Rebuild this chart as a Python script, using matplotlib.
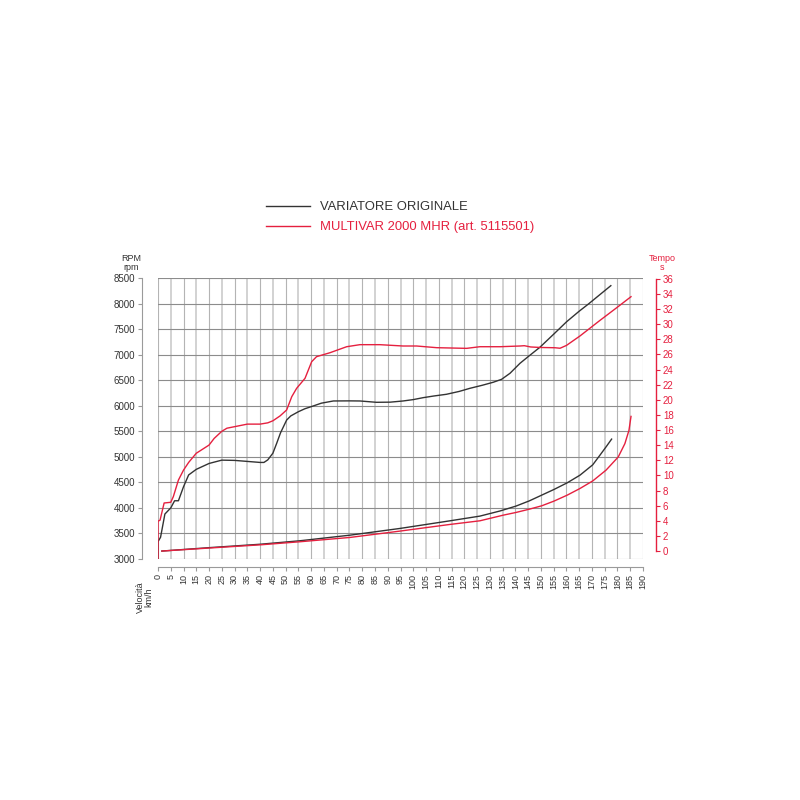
import matplotlib
matplotlib.use("Agg")
import matplotlib.pyplot as plt
from matplotlib import font_manager
from matplotlib.lines import Line2D

# ---------------- data ----------------
orig_rpm_speed = [0, 0, 1, 2.7, 5, 6.5, 8, 10, 12, 15, 20, 25, 30, 35, 40, 41.5, 43, 45,
                  46.5, 48, 50.4, 52, 55, 57.5, 60.8, 64, 68.7, 75, 79.1, 85.6, 91, 96,
                  100, 103.9, 108, 113, 118, 122.2, 127, 131.3, 134.6, 137.9, 141.8,
                  145, 149.6, 155, 160.1, 165, 168.6, 173, 177.4]
orig_rpm = [3000, 3340, 3425, 3880, 4000, 4140, 4140, 4415, 4645, 4755, 4870, 4935, 4930,
            4910, 4890, 4890, 4940, 5070, 5265, 5470, 5720, 5800, 5883, 5940, 5995, 6050,
            6093, 6095, 6093, 6067, 6070, 6093, 6120, 6158, 6190, 6224, 6280, 6341, 6400,
            6459, 6517, 6635, 6830, 6960, 7144, 7400, 7645, 7850, 7990, 8170, 8350]

multi_rpm_speed = [0, 0, 0.8, 2.4, 5, 6, 8, 10, 12, 15, 20, 22, 25, 27, 30, 35, 40, 43, 45,
                   47.8, 50.4, 52.4, 54.3, 57.6, 60.2, 62.1, 67.4, 73.9, 79.1, 86.9, 96,
                   101.3, 109.2, 120.9, 126.1, 134, 141.8, 143.5, 146, 150, 155.5, 157.5,
                   160, 165.3, 173, 180, 185.3]
multi_rpm = [3000, 3740, 3760, 4096, 4110, 4220, 4545, 4740, 4890, 5070, 5230, 5360, 5500,
             5560, 5590, 5640, 5640, 5665, 5705, 5800, 5917, 6177, 6340, 6537, 6862, 6960,
             7038, 7155, 7195, 7195, 7169, 7169, 7136, 7123, 7155, 7155, 7169, 7175, 7150,
             7140, 7135, 7125, 7180, 7365, 7665, 7930, 8134]

orig_time_speed = [1.5, 20, 40, 55.6, 75.2, 94.8, 114.4, 126.1, 134, 140.2, 145.5, 150.3,
                   155.1, 160.3, 165.3, 170.3, 173.1, 175.5, 177.7]
orig_time = [0, 0.45, 0.9, 1.36, 2.1, 2.99, 4.0, 4.62, 5.3, 5.94, 6.64, 7.39, 8.14, 9.02,
             10.03, 11.4, 12.66, 13.76, 14.8]

multi_time_speed = [1.5, 20, 40, 55.6, 75.2, 94.8, 114.4, 126.1, 135.3, 140.2, 145.5, 150.3,
                    155.1, 160.3, 165.3, 170.3, 175.5, 180.3, 182.9, 184.5, 185.3]
multi_time = [0, 0.4, 0.82, 1.23, 1.8, 2.64, 3.52, 4.0, 4.75, 5.1, 5.54, 5.98, 6.6, 7.39,
              8.27, 9.27, 10.69, 12.44, 14.2, 15.96, 17.8]

x_ticks = list(range(0, 195, 5))
rpm_ticks = list(range(3000, 8501, 500))
time_ticks = list(range(0, 37, 2))

label_orig = "VARIATORE ORIGINALE"
label_multi = "MULTIVAR 2000 MHR (art. 5115501)"

# ---------------- style ----------------
names = {f.name for f in font_manager.fontManager.ttflist}
fam = "Liberation Sans Narrow" if "Liberation Sans Narrow" in names else "Liberation Sans"
plt.rcParams["font.family"] = [fam, "DejaVu Sans"]

BLACK = "#333333"
RED = "#e5203f"
GRID_V = "#b4b4b4"
GRID_H = "#8c8c8c"
AX_GRAY = "#9a9a9a"

fig = plt.figure(figsize=(8, 8), dpi=100)
ax = fig.add_axes([158 / 800, 1 - 559 / 800, 485 / 800, 281 / 800])
ax.set_xlim(0, 190)
ax.set_ylim(3000, 8500)

# grid
for xv in x_ticks:
    if xv % 10 == 0:
        ax.axvline(xv, color=GRID_V, lw=0.8, zorder=0)
    else:
        ax.axvline(xv, color="#cfcfcf", lw=1.3, zorder=0)
for yv in rpm_ticks:
    ax.axhline(yv, color=GRID_H, lw=0.8, zorder=0)

ax.plot(orig_rpm_speed, orig_rpm, color=BLACK, lw=1.0, zorder=3)
ax.plot(multi_rpm_speed, multi_rpm, color=RED, lw=1.0, zorder=4)

# spines
for s in ["top", "right"]:
    ax.spines[s].set_visible(False)
ax.spines["left"].set_position(("outward", 16 * 0.72))
ax.spines["bottom"].set_position(("outward", 8 * 0.72))
ax.spines["left"].set_color(AX_GRAY)
ax.spines["bottom"].set_color(AX_GRAY)
ax.spines["left"].set_linewidth(0.8)
ax.spines["bottom"].set_linewidth(0.8)

ax.set_xticks(x_ticks)
ax.set_xticklabels([str(v) for v in x_ticks], rotation=90, fontsize=6.5, color="#333333")
ax.set_yticks(rpm_ticks)
ax.set_yticklabels([str(v) for v in rpm_ticks], fontsize=7, color="#333333")
ax.tick_params(axis="both", length=3, width=0.8, color=AX_GRAY, pad=2)

# right axis (time)
ax2 = ax.twinx()
ax2.set_ylim(-1.05, 36.1)
ax2.plot(orig_time_speed, orig_time, color=BLACK, lw=1.0, zorder=3)
ax2.plot(multi_time_speed, multi_time, color=RED, lw=1.0, zorder=4)
for s in ["top", "left", "bottom"]:
    ax2.spines[s].set_visible(False)
ax2.spines["right"].set_position(("outward", 13 * 0.72))
ax2.spines["right"].set_color(RED)
ax2.spines["right"].set_linewidth(1.0)
ax2.spines["right"].set_bounds(0, 36)
ax2.set_yticks(time_ticks)
ax2.set_yticklabels([str(v) for v in time_ticks], fontsize=7, color=RED)
ax2.tick_params(axis="y", length=3, width=0.8, color=RED, pad=2)

# axis titles
fig.text(131 / 800, 1 - 263 / 800, "RPM\nrpm", ha="center", va="center",
         fontsize=6.5, color="#333333", linespacing=0.9)
fig.text(662 / 800, 1 - 263 / 800, "Tempo\ns", ha="center", va="center",
         fontsize=6.5, color=RED, linespacing=0.9)
fig.text(145 / 800, 1 - 597 / 800, "Velocità\nkm/h", ha="center", va="center",
         rotation=90, fontsize=6.5, color="#333333", linespacing=0.9)

# legend
handles = [Line2D([], [], color=BLACK, lw=1.0), Line2D([], [], color=RED, lw=1.0)]
leg = fig.legend(handles, [label_orig, label_multi], loc="upper left",
                 bbox_to_anchor=(266 / 800, 1 - 201 / 800), frameon=False,
                 fontsize=9.4, handlelength=3.35, handletextpad=0.8,
                 labelspacing=0.62, borderpad=0, borderaxespad=0)
for txt, col in zip(leg.get_texts(), [BLACK, RED]):
    txt.set_color(col)

fig.savefig("out.png", dpi=100)
